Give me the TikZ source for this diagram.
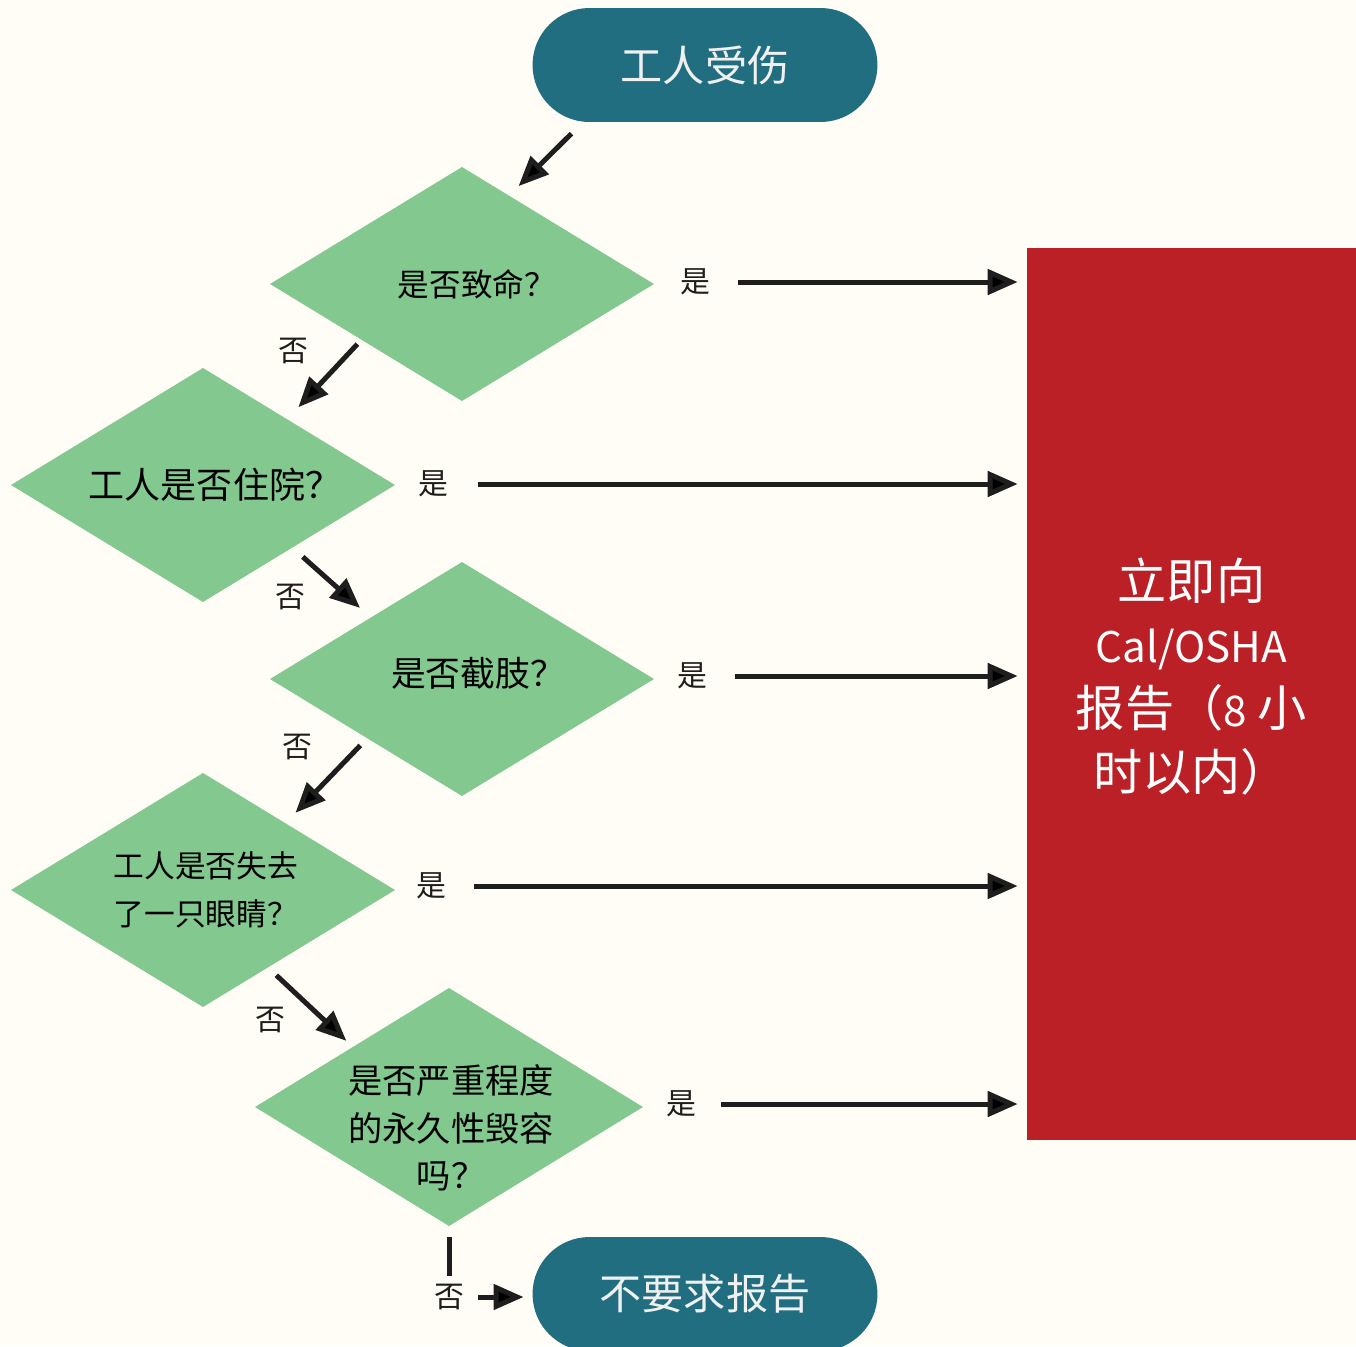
\documentclass[tikz,border=0pt]{standalone}
\usepackage{fontspec}
\setmainfont{Noto Sans CJK SC}
\usepackage{xcolor}
\usetikzlibrary{arrows.meta, shapes.geometric, shapes.misc}

\definecolor{bgcream}{HTML}{FFFDF6}
\definecolor{termteal}{HTML}{216E80}
\definecolor{qgreen}{HTML}{82C88F}
\definecolor{reportred}{HTML}{BB2026}
\definecolor{linegray}{HTML}{1E1E1E}

\newcommand{\latinpart}[1]{{\fontsize{24}{36.4}\selectfont #1}}

\tikzset{
  terminal/.style={rounded rectangle, fill=termteal, minimum width=6.9cm, minimum height=2.28cm,
    inner sep=0pt, outer sep=0pt, text=white!94!black, font=\fontsize{24}{28}\selectfont},
  question/.style={diamond, fill=qgreen, minimum width=7.68cm, minimum height=4.68cm,
    inner sep=0pt, outer sep=0pt},
  qtext/.style={align=center, inner sep=0pt, text=black, font=\fontsize{#1}{27}\selectfont},
  qtext/.default=17.5,
  reporttext/.style={align=center, inner sep=0pt, text=white, font=\fontsize{28}{36.4}\selectfont},
  answer/.style={inner sep=0pt, text=linegray, font=\fontsize{17}{19}\selectfont},
  flow/.style={line width=0.1cm, draw=linegray, -{Triangle[length=0.6cm, width=0.5cm, fill=black]}},
  stem/.style={line width=0.1cm, draw=linegray},
}

\begin{document}
\begin{tikzpicture}[x=0.02cm, y=-0.02cm]
\fill[bgcream] (0,0) rectangle (1356,1346);
\useasboundingbox (0,0) rectangle (1356,1346);

% start and end
\node[terminal] (start) at (705,65) {工人受伤};
\node[terminal] (stop) at (705,1294) {不要求报告};

% questions
\node[question, label={[qtext=18, xshift=0.3cm]center:是否致命？}] (q1) at (462,284) {};
\node[question, label={[qtext=20.5, xshift=0.24cm]center:工人是否住院？}] (q2) at (203,485) {};
\node[question, label={[qtext=19.8, xshift=0.32cm, yshift=0.12cm]center:是否截肢？}] (q3) at (462,679) {};
\node[question, label={[qtext, xshift=0.06cm]center:{工人是否失去\\了一只眼睛？}}] (q4) at (203,890) {};
\node[question, minimum width=7.76cm, minimum height=4.76cm,
  label={[qtext=19.5, xshift=0.04cm, yshift=-0.42cm]center:{是否严重程度\\的永久性毁容\\吗？}}] (q5) at (449,1107) {};

% report box
\node[rectangle, fill=reportred, minimum width=6.58cm, minimum height=17.84cm, inner sep=0pt,
  label={[reporttext, yshift=0.35cm]center:{立即向\\\latinpart{Cal/OSHA}\\报告（\latinpart{8} 小\\时以内）}}] (report) at (1191.5,694) {};

% yes / no labels
\node[answer] (yes1) at (695,282) {是};
\node[answer] (yes2) at (433,484) {是};
\node[answer] (yes3) at (692,676) {是};
\node[answer] (yes4) at (431,886) {是};
\node[answer] (yes5) at (681,1104) {是};
\node[answer] (no1) at (293,351) {否};
\node[answer] (no2) at (290,597) {否};
\node[answer] (no3) at (297,747) {否};
\node[answer] (no4) at (270,1020) {否};
\node[answer] (no5) at (449,1297) {否};

% no chain
\draw[flow, shorten <=0.34cm, shorten >=0.27cm] (start.205) -- (q1.62);
\draw[flow, shorten <=0.12cm, shorten >=0.33cm] (q1.209) -- (q2.38);
\draw[flow, shorten <=0.28cm, shorten >=0.29cm] (q2.325) -- (q3.146);
\draw[flow, shorten <=0.2cm, shorten >=0.29cm] (q3.212) -- (q4.39);
\draw[flow, shorten <=0.23cm, shorten >=0.18cm] (q4.310) -- (q5.148);
\draw[stem, shorten <=0.22cm, shorten >=0.15cm] (q5.south) -- (no5.north);
\draw[flow, shorten <=0.28cm, shorten >=0.18cm] (no5.east) -- (no5.east -| stop.west);

% yes arrows
\draw[flow, shorten <=0.56cm, shorten >=0.18cm] (yes1.east) -- (yes1.east -| report.west);
\draw[flow, shorten <=0.6cm, shorten >=0.18cm] (yes2.east) -- (yes2.east -| report.west);
\draw[flow, shorten <=0.56cm, shorten >=0.18cm] (yes3.east) -- (yes3.east -| report.west);
\draw[flow, shorten <=0.56cm, shorten >=0.18cm] (yes4.east) -- (yes4.east -| report.west);
\draw[flow, shorten <=0.5cm, shorten >=0.18cm] (yes5.east) -- (yes5.east -| report.west);

\end{tikzpicture}
\end{document}
